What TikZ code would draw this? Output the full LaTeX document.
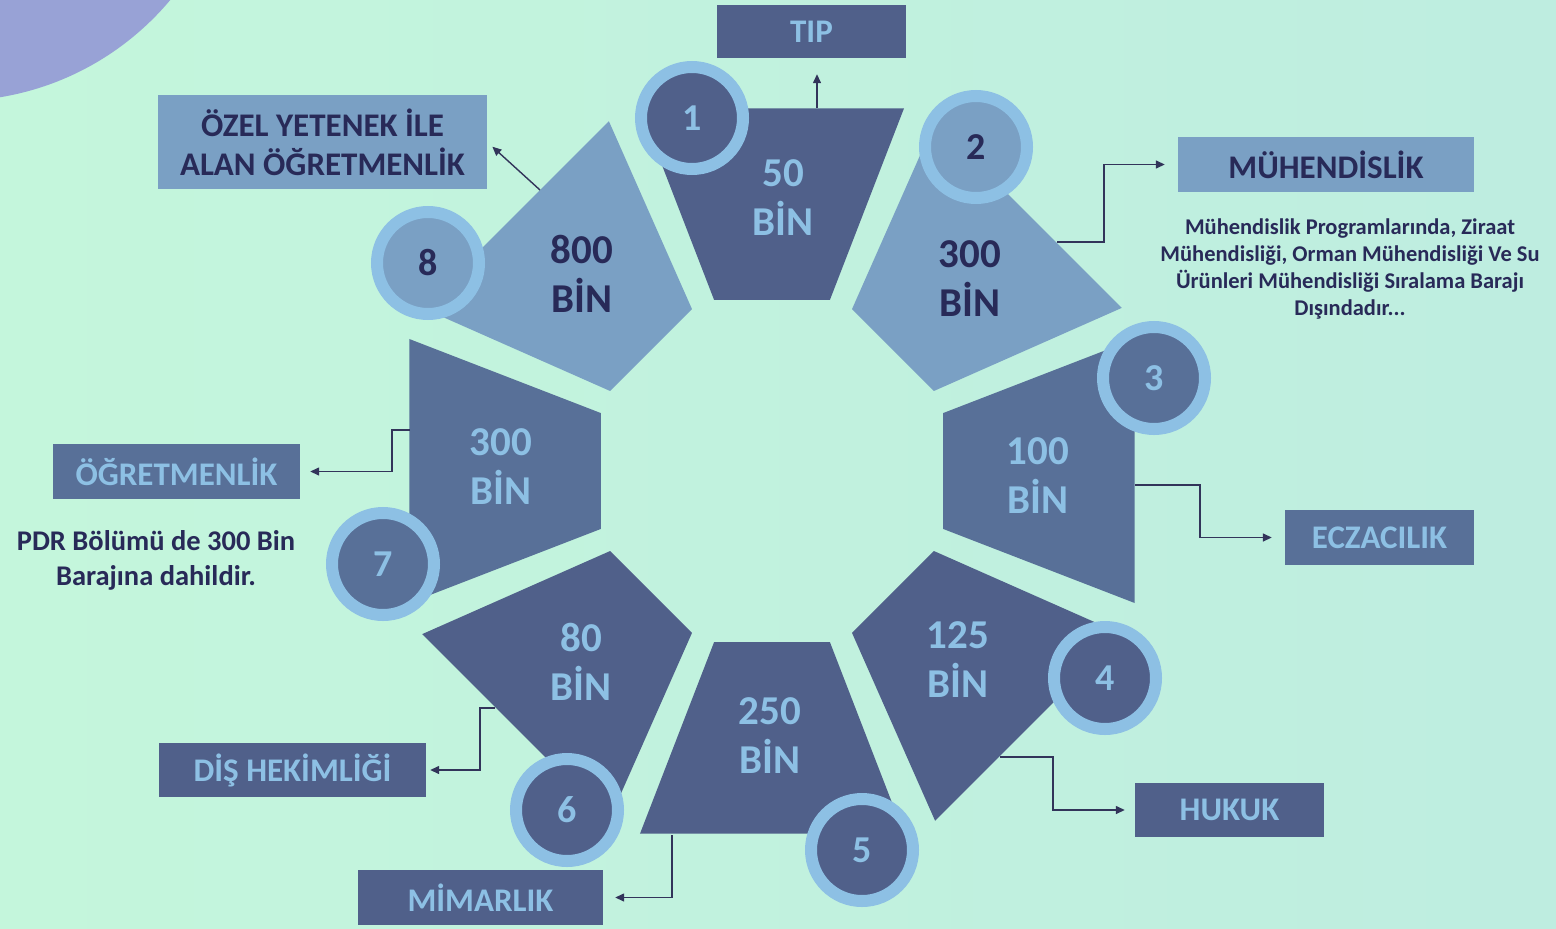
\documentclass[tikz,border=0pt]{standalone}
\usepackage{fontspec}
\setmainfont{Carlito}
\usetikzlibrary{arrows.meta,calc}
\definecolor{bgL}{RGB}{196,246,220}
\definecolor{bgR}{RGB}{190,237,224}
\definecolor{segDark}{RGB}{80,96,138}
\definecolor{segMid}{RGB}{88,112,152}
\definecolor{segLight}{RGB}{122,160,196}
\definecolor{ringC}{RGB}{141,192,228}
\definecolor{txtLight}{RGB}{141,192,228}
\definecolor{txtDark}{RGB}{40,42,88}
\definecolor{lineC}{RGB}{50,52,90}
\definecolor{blobC}{RGB}{152,162,214}
\tikzset{
  segtext/.style={font=\fontsize{41}{49}\selectfont\bfseries, align=center, text=#1, inner sep=0pt},
  numcirc/.style={circle, fill=#1, draw=ringC, line width=12pt, minimum size=102pt, inner sep=0pt,
     font=\fontsize{38}{40}\selectfont\bfseries},
  catbox/.style n args={4}{rectangle, fill=#1, text=#2, minimum width=#3, minimum height=#4,
     inner sep=0pt, align=center, font=\fontsize{33}{39}\selectfont\bfseries},
  note/.style={text=txtDark, align=center, inner sep=0pt},
  conn/.style={draw=lineC, line width=1.4pt, -{Triangle[length=9pt,width=8pt]}}
}
\begin{document}
\begin{tikzpicture}[x=1pt,y=-1pt]
\useasboundingbox (0,0) rectangle (1556,929);
\shade[left color=bgL, right color=bgR] (0,0) rectangle (1556,929);
\begin{scope}
  \clip (0,0) rectangle (1556,929);
  \fill[blobC] (-46,-181) circle (282pt);
\end{scope}

% segments of the octagon
\begin{scope}[shift={(772,471)}]
\foreach \k/\col in {1/segDark,2/segLight,3/segMid,4/segDark,5/segDark,6/segDark,7/segMid,8/segLight}{
  \pgfmathsetmacro\th{-90+45*(\k-1)}
  \fill[\col] (\th-18.7:180.6) -- (\th+18.7:180.6) -- (\th+20:386) -- (\th-20:386) -- cycle;
}
\end{scope}

% segment texts
\node[segtext=txtLight] (s1) at (783,198) {50\\BİN};
\node[segtext=txtDark]  (s2) at (970,279) {300\\BİN};
\node[segtext=txtLight] (s3) at (1038,476) {100\\BİN};
\node[segtext=txtLight] (s4) at (958,660) {125\\BİN};
\node[segtext=txtLight] (s5) at (770,736) {250\\BİN};
\node[segtext=txtLight] (s6) at (581,662) {80\\BİN};
\node[segtext=txtLight] (s7) at (501,467) {300\\BİN};
\node[segtext=txtDark]  (s8) at (582,274) {800\\BİN};

% numbered circles
\node[numcirc=segDark,  text=txtLight] (c1) at (692,118) {1};
\node[numcirc=segLight, text=txtDark]  (c2) at (976,147) {2};
\node[numcirc=segMid,   text=txtLight] (c3) at (1154,378) {3};
\node[numcirc=segDark,  text=txtLight] (c4) at (1105,678) {4};
\node[numcirc=segDark,  text=txtLight] (c5) at (862,850) {5};
\node[numcirc=segDark,  text=txtLight] (c6) at (567,810) {6};
\node[numcirc=segMid,   text=txtLight] (c7) at (383,564) {7};
\node[numcirc=segLight, text=txtDark]  (c8) at (428,263) {8};

% category boxes
\node[catbox={segDark}{txtLight}{189pt}{53pt}]  (tip) at (811.5,31.5) {TIP};
\node[catbox={segLight}{txtDark}{329pt}{94pt}]  (ozel) at (322.5,142) {ÖZEL YETENEK İLE\\ALAN ÖĞRETMENLİK};
\node[catbox={segLight}{txtDark}{296pt}{55pt}]  (muh) at (1326,164.5) {MÜHENDİSLİK};
\node[catbox={segMid}{txtLight}{189pt}{55pt}]   (ecz) at (1379.5,537.5) {ECZACILIK};
\node[catbox={segDark}{txtLight}{189pt}{54pt}]  (huk) at (1229.5,810) {HUKUK};
\node[catbox={segDark}{txtLight}{245pt}{55pt}]  (mim) at (480.5,897.5) {MİMARLIK};
\node[catbox={segDark}{txtLight}{267pt}{54pt}]  (dis) at (292.5,770) {DİŞ HEKİMLİĞİ};
\node[catbox={segMid}{txtLight}{247pt}{55pt}]   (ogr) at (176.5,471.5) {ÖĞRETMENLİK};

% notes
\node[note, font=\fontsize{22.5}{27.3}\selectfont\bfseries] (muhnote) at (1350,269)
  {Mühendislik Programlarında, Ziraat\\Mühendisliği, Orman Mühendisliği Ve Su\\Ürünleri Mühendisliği Sıralama Barajı\\Dışındadır...};
\node[note, font=\fontsize{28.5}{35}\selectfont\bfseries] (pdrnote) at (156,560)
  {PDR Bölümü de 300 Bin\\Barajına dahildir.};

% connector start points on the segments
\coordinate (e1) at (817,108);
\coordinate (e2) at (1057,242);
\coordinate (e3) at (1135,485);
\coordinate (e4) at (1000,757);
\coordinate (e5) at (672,835);
\coordinate (e6) at (495,708);
\coordinate (e7) at (410,430);
\coordinate (e8) at (540,190);

\draw[conn, shorten >=16pt] (e1) -- (e1 |- tip.south);
\draw[conn, shorten >=13pt] (e2) -- (1104,242) |- (muh.west);
\draw[conn, shorten >=13pt] (e3) -- (1200,485) |- (ecz.west);
\draw[conn, shorten >=10pt] (e4) -- (1053,757) |- (huk.west);
\draw[conn, shorten >=12pt] (e5) |- (mim.east);
\draw[conn, shorten >=4pt]  (e6) -- (480,708) |- (dis.east);
\draw[conn, shorten >=10pt] (e7) -- (392,430) |- (ogr.east);
\draw[conn, shorten >=7pt]  (e8) -- (ozel.east);
\end{tikzpicture}
\end{document}
